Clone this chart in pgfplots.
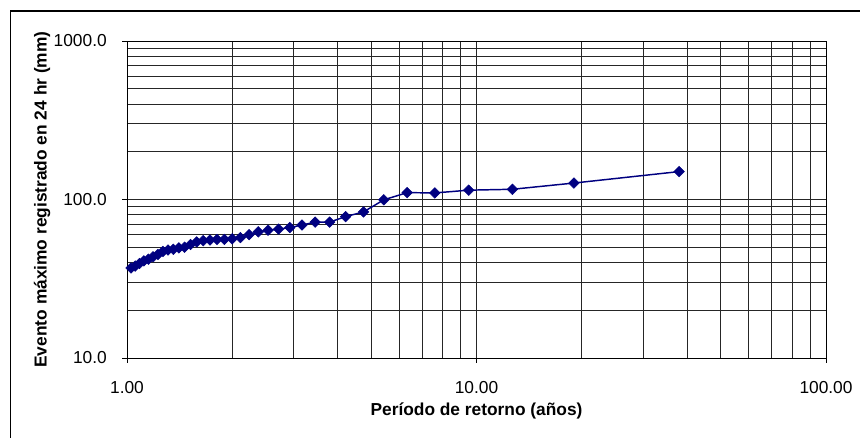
\documentclass[border=0pt]{standalone}
\usepackage{pgfplots}
\pgfplotsset{compat=1.18}
\usepackage{fontspec}
\setmainfont{Liberation Sans}
\definecolor{serie}{RGB}{0,0,128}

\begin{document}
\begin{tikzpicture}
% canvas: 1 px = 0.75 pt
\useasboundingbox (-95.25pt,-60pt) rectangle (549.75pt,268.5pt);
\draw[line width=0.8pt] (-87.375pt,-60pt) -- (-87.375pt,260.25pt) -- (549.75pt,260.25pt);
\begin{axis}[
  scale only axis,
  width=524.25pt, height=237.75pt,
  xmode=log, ymode=log,
  xmin=1, xmax=100, ymin=10, ymax=1000,
  xtick={1,10,100}, xticklabels={1.00,10.00,100.00},
  ytick={10,100,1000}, yticklabels={10.0,100.0,1000.0},
  minor xtick={2,3,4,5,6,7,8,9,20,30,40,50,60,70,80,90},
  minor ytick={20,30,40,50,60,70,80,90,200,300,400,500,600,700,800,900},
  grid=both,
  major grid style={black!85, line width=0.6pt},
  minor grid style={black!85, line width=0.6pt},
  axis line style={black, line width=0.7pt},
  tick align=outside,
  major tick length=3.75pt, minor tick length=0pt,
  tick style={black, line width=0.6pt},
  xtick pos=bottom, ytick pos=left,
  tick label style={font=\fontsize{13}{15}\selectfont},
  every x tick label/.append style={anchor=center, inner sep=0pt, yshift=-18.75pt},
  every y tick label/.append style={anchor=east, inner sep=0pt, xshift=-11.25pt},
  xlabel={\bfseries Período de retorno (años)},
  ylabel={\bfseries Evento máximo registrado en 24 hr (mm)},
  label style={font=\fontsize{13}{15}\selectfont},
  xlabel style={at={(axis description cs:0.5,0)}, anchor=center, yshift=-39.75pt},
  ylabel style={at={(axis description cs:0,0.5)}, anchor=center, rotate=0, yshift=63.75pt},
]
\addplot[color=serie, line width=1.1pt, mark=square*, mark size=2.8pt,
         mark options={rotate=45, fill=serie, draw=serie, line width=0.4pt}]
coordinates {
 (1.0270,37.0) (1.0556,38.0) (1.0857,39.5) (1.1176,41.0) (1.1515,42.0)
 (1.1875,43.5) (1.2258,45.0) (1.2667,47.0) (1.3103,48.0) (1.3571,48.5)
 (1.4074,49.5) (1.4615,50.0) (1.5200,52.0) (1.5833,54.0) (1.6522,55.0)
 (1.7273,55.5) (1.8095,56.0) (1.9000,56.0) (2.0000,56.5) (2.1111,57.5)
 (2.2353,60.0) (2.3750,62.5) (2.5333,64.0) (2.7143,65.0) (2.9231,66.5)
 (3.1667,69.0) (3.4545,72.0) (3.8000,72.0) (4.2222,78.0) (4.7500,83.5)
 (5.4286,99.5) (6.3333,110.5) (7.6000,110.0) (9.5000,114.5) (12.6667,116.0)
 (19.0000,127.0) (38.0000,150.0)
};
\end{axis}
\end{tikzpicture}
\end{document}
